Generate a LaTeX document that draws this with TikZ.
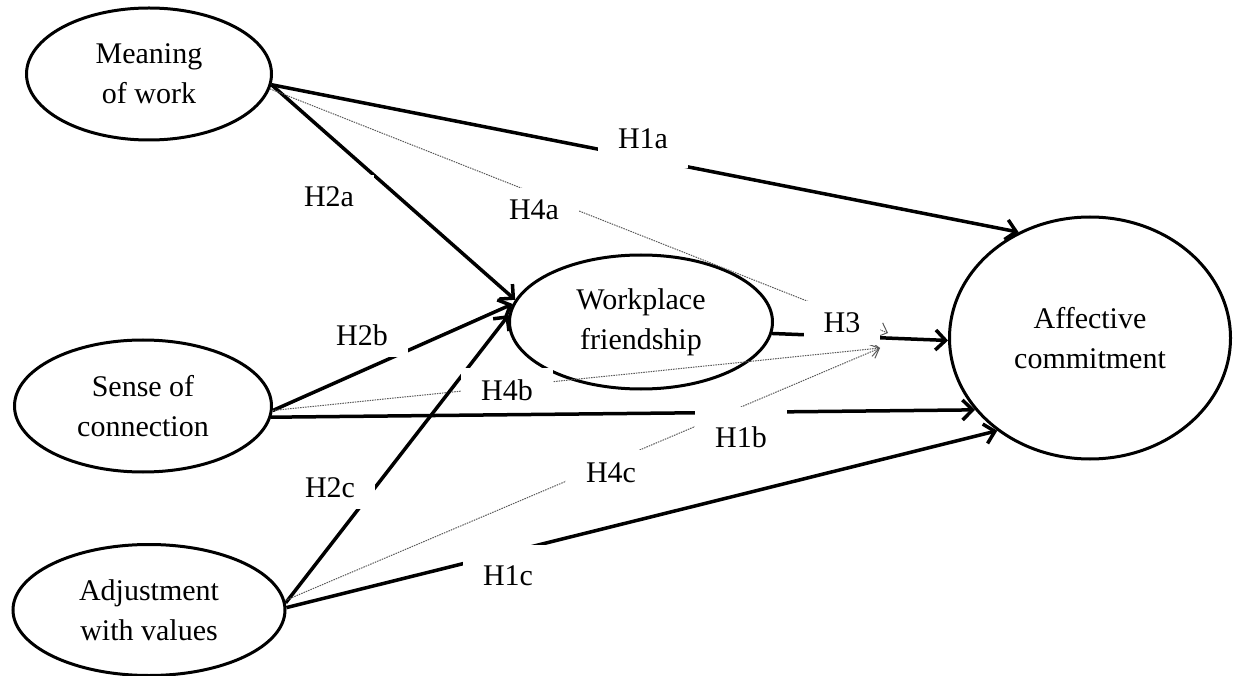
\documentclass[tikz,border=0pt]{standalone}
\usepackage{fontspec}
\setmainfont{Liberation Serif}
\usetikzlibrary{
  arrows.meta,
  shapes.geometric
}

\begin{document}
\begin{tikzpicture}[
    x=1pt, y=-1pt,
    font=\rmfamily\fontsize{30}{40}\selectfont,
    var/.style={draw, ellipse, line width=3pt, inner sep=0pt, align=center},
    hyp/.style={line width=3.5pt, -{Straight Barb[length=10pt, width=20pt]}},
    med/.style={line width=1pt, black!65, dash pattern=on 1.5pt off 1pt,
                -{Straight Barb[length=8pt, width=15pt]}},
    lbl/.style={fill=white, inner xsep=20pt, inner ysep=12pt,
                text height=20pt, text depth=0pt},
  ]
  \useasboundingbox (0,0) rectangle (1237,676);

  % Constructs
  \node[var, minimum width=245pt, minimum height=132pt] (mow) at (149,74)
    {Meaning\\of work};
  \node[var, minimum width=257pt, minimum height=132pt] (sc)  at (143,406)
    {Sense of\\connection};
  \node[var, minimum width=272pt, minimum height=131pt] (awv) at (149,610)
    {Adjustment\\with values};
  \node[var, minimum width=263pt, minimum height=134pt] (wf)  at (641,322)
    {Workplace\\friendship};
  \node[var, minimum width=281pt, minimum height=242pt] (ac)  at (1090,338)
    {Affective\\commitment};

  % Mediation targets on the H3 path
  \coordinate (m4a)  at (888,333);
  \coordinate (m4bc) at (880,348);

  % Direct and mediated paths
  \draw[hyp] (mow.-5) -- (ac.124);
  \draw[hyp] (mow.-5) -- (wf.170);
  \draw[med] (mow.-7) -- (m4a);
  \draw[hyp] (sc.-2)  -- (wf.172);
  \draw[med] (sc.-2)  -- (m4bc);
  \draw[hyp] (sc.-5)  -- (ac.212);
  \draw[hyp] (awv.3)  -- (wf.177);
  \draw[med] (awv.4)  -- (m4bc);
  \draw[hyp] (awv.1)  -- (ac.225);
  \draw[hyp] (wf.-5)  -- (ac.181);

  % Hypothesis labels
  \node[lbl, text depth=7pt]   (h1a) at (643,142.5) {H1a};
  \node[lbl, text height=28pt] (h1b) at (741,433) {H1b};
  \node[lbl, text height=28pt] (h1c) at (508,571) {H1c};
  \node[lbl] (h2a) at (329,197) {H2a};
  \node[lbl] (h2b) at (362,335) {H2b};
  \node[lbl] (h2c) at (330,487) {H2c};
  \node[lbl] (h3)  at (842,323) {H3};
  \node[lbl] (h4a) at (534,210) {H4a};
  \node[lbl] (h4b) at (507,390) {H4b};
  \node[lbl] (h4c) at (611,472) {H4c};

\end{tikzpicture}
\end{document}
